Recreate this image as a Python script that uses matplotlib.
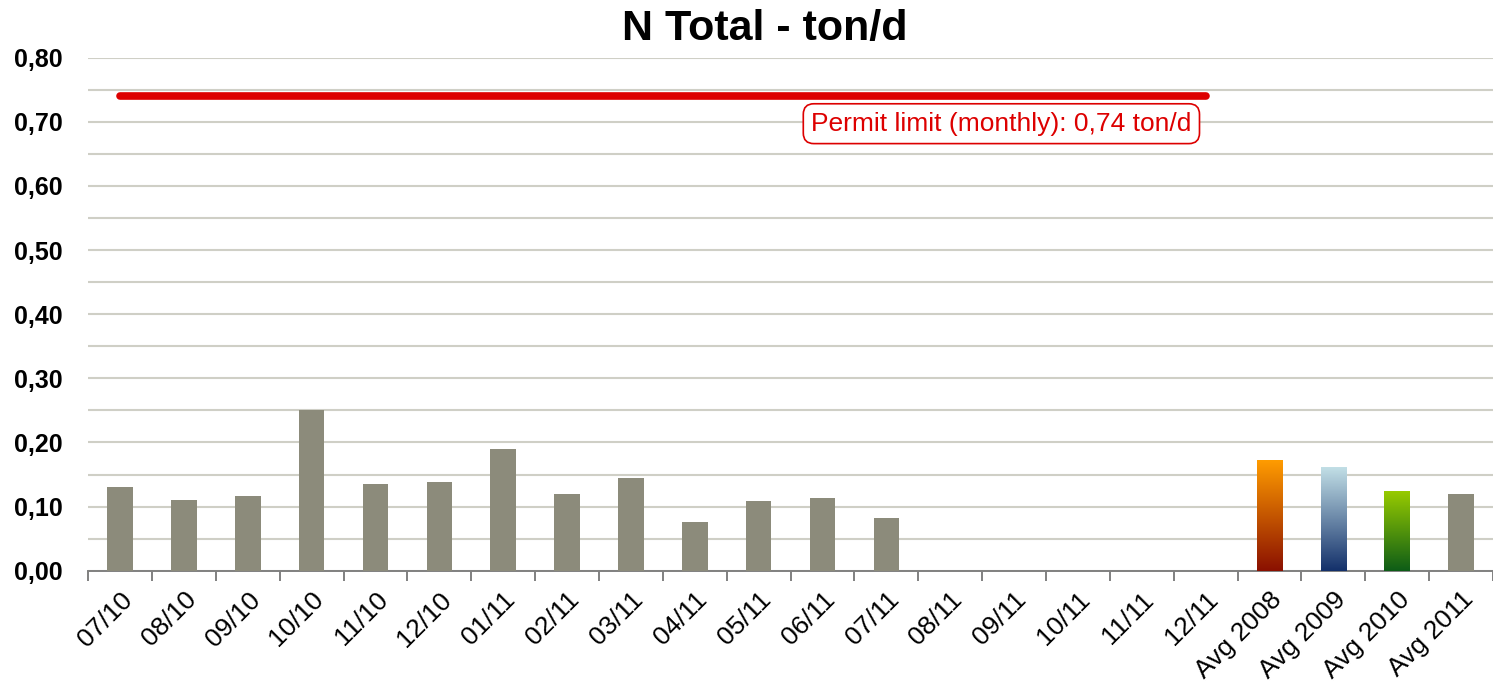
import numpy as np
import matplotlib
matplotlib.use("Agg")
import matplotlib.pyplot as plt
from matplotlib.colors import LinearSegmentedColormap
from matplotlib.ticker import MultipleLocator, FuncFormatter

plt.rcParams["font.family"] = ["Liberation Sans", "DejaVu Sans"]

categories = ["07/10", "08/10", "09/10", "10/10", "11/10", "12/10", "01/11", "02/11",
              "03/11", "04/11", "05/11", "06/11", "07/11", "08/11", "09/11", "10/11",
              "11/11", "12/11", "Avg 2008", "Avg 2009", "Avg 2010", "Avg 2011"]
values = [0.131, 0.111, 0.117, 0.251, 0.136, 0.139, 0.190, 0.120,
          0.145, 0.076, 0.109, 0.114, 0.083, np.nan, np.nan, np.nan,
          np.nan, np.nan, 0.173, 0.161, 0.125, 0.120]
permit_limit = 0.74
limit_span = ("07/10", "12/11")

gray = "#8c8b7b"
gradients = {
    "Avg 2008": ("#8a1000", "#ff9c00"),
    "Avg 2009": ("#13306a", "#c2dfe6"),
    "Avg 2010": ("#0d5c17", "#99cc00"),
}

fig = plt.figure(figsize=(14.93, 6.86), dpi=100)
ax = fig.add_axes([0.059, 0.168, 0.941, 0.748])

x = np.arange(len(categories))
vals = np.nan_to_num(np.array(values, dtype=float))
bars = ax.bar(x, vals, width=0.4, color=gray, zorder=3)

# gradient fills for the yearly averages
for b, cat in zip(bars, categories):
    if cat in gradients:
        lo, hi = gradients[cat]
        cmap = LinearSegmentedColormap.from_list(cat, [lo, hi])
        b.set_facecolor("none")
        x0, w, h = b.get_x(), b.get_width(), b.get_height()
        grad = np.linspace(0, 1, 256).reshape(-1, 1)
        im = ax.imshow(grad, cmap=cmap, origin="lower", aspect="auto",
                       extent=[x0, x0 + w, 0, h], zorder=3)
        im.set_clip_path(b)

i0, i1 = categories.index(limit_span[0]), categories.index(limit_span[1])
ax.plot([i0, i1], [permit_limit, permit_limit], color="#dd0000", lw=5.5,
        solid_capstyle="round", zorder=4)
ax.text(i1 - 0.22, 0.697, "Permit limit (monthly): 0,74 ton/d", color="#dd0000",
        fontsize=19, ha="right", va="center", zorder=5,
        bbox=dict(boxstyle="round,pad=0.3,rounding_size=0.4", fc="white",
                  ec="#dd0000", lw=1.2))

ax.set_xlim(-0.5, len(categories) - 0.5)
ax.set_ylim(0, 0.80)
ax.yaxis.set_major_locator(MultipleLocator(0.10))
ax.yaxis.set_minor_locator(MultipleLocator(0.05))
ax.yaxis.set_major_formatter(FuncFormatter(lambda v, p: f"{v:.2f}".replace(".", ",")))
ax.grid(axis="y", which="both", color="#cfcfc6", lw=1.5, zorder=0)
ax.set_axisbelow(True)

for s in ["left", "right", "top"]:
    ax.spines[s].set_visible(False)
ax.spines["bottom"].set_color("#808080")
ax.spines["bottom"].set_linewidth(1.4)

ax.set_xticks(x)
ax.set_xticklabels(categories, rotation=45, ha="right", rotation_mode="anchor",
                   fontsize=19)
ax.set_xticks(np.arange(len(categories) + 1) - 0.5, minor=True)
ax.tick_params(axis="x", which="major", length=0, pad=12)
ax.tick_params(axis="x", which="minor", length=7, width=1.4, color="#808080")
ax.tick_params(axis="y", which="both", length=0, pad=18)
for lbl in ax.get_yticklabels():
    lbl.set_fontweight("bold")
    lbl.set_fontsize(18)

fig.text(0.512, 0.958, "N Total - ton/d", ha="center", va="center",
         fontsize=31, fontweight="bold")

fig.savefig("out.png", dpi=100)
